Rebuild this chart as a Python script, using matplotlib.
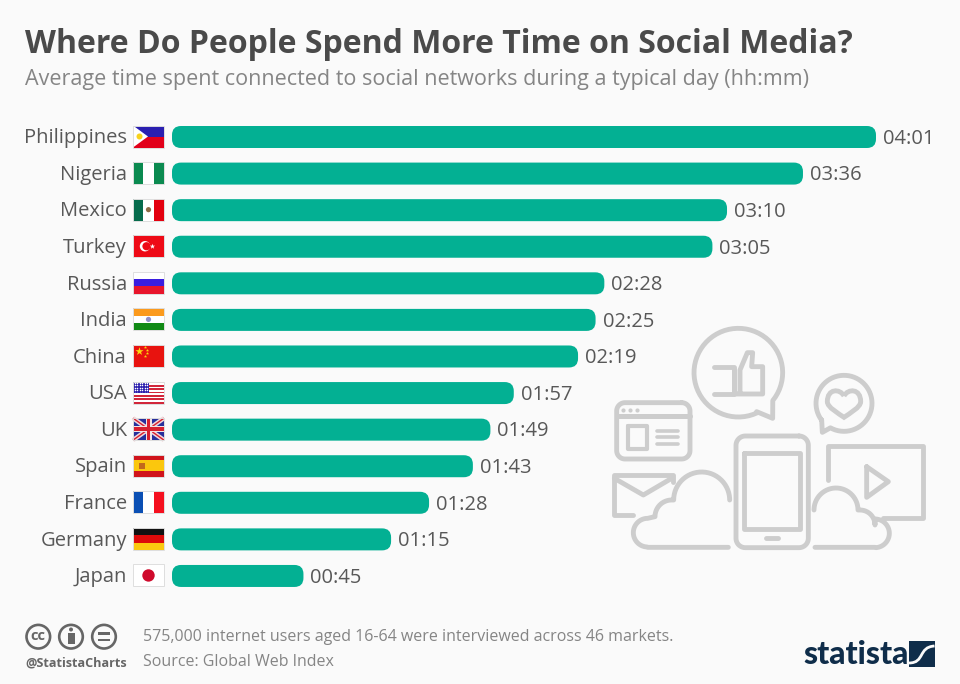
#!/usr/bin/env python3
"""Average daily social media time per country, Statista style."""

import matplotlib

matplotlib.use("Agg")
import matplotlib.pyplot as plt
import numpy as np
from matplotlib.patches import Circle, FancyBboxPatch, PathPatch, Polygon, Rectangle
from matplotlib.path import Path

countries = ["Philippines", "Nigeria", "Mexico", "Turkey", "Russia", "India", "China",
             "USA", "UK", "Spain", "France", "Germany", "Japan"]
time_labels = ["04:01", "03:36", "03:10", "03:05", "02:28", "02:25", "02:19",
               "01:57", "01:49", "01:43", "01:28", "01:15", "00:45"]
minutes = [241, 216, 190, 185, 148, 145, 139, 117, 109, 103, 88, 75, 45]

BG = "#fafafa"
BAR = "#03b093"
DARK = "#4a4a4a"
TEXT = "#585858"
MUTED = "#858585"
ICON = "#cdcdcd"
NAVY = "#0f2d4a"
FONT = "Open Sans"

W, H = 960, 684
PX_PER_MIN = 704 / 241
ROW_PX = 36.58
FIRST_ROW_PX = 137
BAR_LEFT = 172
BAR_PX = 22

plt.rcParams["font.family"] = [FONT, "DejaVu Sans"]

fig = plt.figure(figsize=(W / 100, H / 100), dpi=100, facecolor=BG)

# overlay in pixel coordinates for flags, icons and footer
pix = fig.add_axes([0, 0, 1, 1], zorder=1)
pix.set_xlim(0, W)
pix.set_ylim(H, 0)
pix.axis("off")

# bars: x is minutes, y is row number
n = len(countries)
top_px = FIRST_ROW_PX - ROW_PX / 2
bottom_px = FIRST_ROW_PX + ROW_PX * (n - 0.5)
ax = fig.add_axes([BAR_LEFT / W, 1 - bottom_px / H, (W - BAR_LEFT) / W, (bottom_px - top_px) / H],
                  zorder=2)
ax.patch.set_alpha(0)
ax.set_xlim(0, (W - BAR_LEFT) / PX_PER_MIN)
ax.set_ylim(n - 0.5, -0.5)
ax.axis("off")

bar_h = BAR_PX / ROW_PX
radius = 9 / PX_PER_MIN
for i, m in enumerate(minutes):
    ax.add_patch(FancyBboxPatch((0, i - bar_h / 2), m, bar_h,
                                boxstyle=f"round,pad=0,rounding_size={radius}",
                                mutation_aspect=PX_PER_MIN / ROW_PX,
                                fc=BAR, ec="none"))
    ax.annotate(time_labels[i], (m, i + 0.05), xytext=(5, 0), textcoords="offset points",
                va="center", ha="left", fontsize=14.5, color=TEXT)


def stripes_h(x, y, w, h, colors, weights=None):
    weights = weights or [1] * len(colors)
    total = sum(weights)
    cur = y
    for c, wt in zip(colors, weights):
        pix.add_patch(Rectangle((x, cur), w, h * wt / total, fc=c, ec="none", zorder=3))
        cur += h * wt / total


def stripes_v(x, y, w, h, colors):
    for j, c in enumerate(colors):
        pix.add_patch(Rectangle((x + j * w / len(colors), y), w / len(colors), h, fc=c, ec="none", zorder=3))


def draw_flag(name, cy):
    x, w, h = 133, 31, 22
    y = cy - h / 2
    if name == "Philippines":
        stripes_h(x, y, w, h, ["#2a1fb0", "#e2001a"])
        pix.add_patch(Polygon([(x, y), (x + 15, cy), (x, y + h)], fc="white", ec="none", zorder=4))
        pix.add_patch(Circle((x + 6.5, cy), 3, fc="#f8d21c", ec="none", zorder=5))
    elif name == "Nigeria":
        stripes_v(x, y, w, h, ["#0b8a50", "white", "#0b8a50"])
    elif name == "Mexico":
        stripes_v(x, y, w, h, ["#066b4c", "white", "#e3000f"])
        pix.add_patch(Circle((x + w / 2, cy), 2.6, fc="#8c6a45", ec="none", zorder=5))
    elif name == "Turkey":
        stripes_h(x, y, w, h, ["#ee0a16"])
        pix.add_patch(Circle((x + 12, cy), 5.2, fc="white", ec="none", zorder=4))
        pix.add_patch(Circle((x + 13.5, cy), 4.1, fc="#ee0a16", ec="none", zorder=5))
        pix.scatter([x + 19], [cy], marker="*", s=16, c="white", linewidths=0, zorder=5)
    elif name == "Russia":
        stripes_h(x, y, w, h, ["white", "#3a1ee0", "#e8152b"])
    elif name == "India":
        stripes_h(x, y, w, h, ["#fb9a1d", "white", "#118a16"])
        pix.add_patch(Circle((x + w / 2, cy), 2.6, fc="#8f8fc8", ec="none", zorder=5))
    elif name == "China":
        stripes_h(x, y, w, h, ["#e8130f"])
        pix.scatter([x + 6], [y + 6], marker="*", s=38, c="#fbd80f", linewidths=0, zorder=5)
        pix.scatter([x + 11.5, x + 14, x + 14, x + 11.5], [y + 2.5, y + 5, y + 8.5, y + 11],
                    marker="*", s=6, c="#fbd80f", linewidths=0, zorder=5)
    elif name == "USA":
        stripes_h(x, y, w, h, ["#d2263a", "white"] * 6 + ["#d2263a"])
        pix.add_patch(Rectangle((x, y), 16, 11.8, fc="#2c20ad", ec="none", zorder=4))
        xs, ys = np.meshgrid(np.arange(x + 1.5, x + 16, 2.6), np.arange(y + 1.5, y + 11.5, 2.4))
        pix.scatter(xs.ravel(), ys.ravel(), s=1.2, c="white", linewidths=0, zorder=5)
    elif name == "UK":
        stripes_h(x, y, w, h, ["#26309c"])
        for a, b in [((x, y), (x + w, y + h)), ((x, y + h), (x + w, y))]:
            pix.plot(*zip(a, b), color="#f0d8dc", lw=3.2, solid_capstyle="butt", zorder=4)
            pix.plot(*zip(a, b), color="#d8202f", lw=1, solid_capstyle="butt", zorder=5)
        pix.add_patch(Rectangle((x + w / 2 - 3, y), 6, h, fc="#f0e4e6", ec="none", zorder=5))
        pix.add_patch(Rectangle((x, cy - 3), w, 6, fc="#f0e4e6", ec="none", zorder=5))
        pix.add_patch(Rectangle((x + w / 2 - 1.7, y), 3.4, h, fc="#d8202f", ec="none", zorder=6))
        pix.add_patch(Rectangle((x, cy - 1.7), w, 3.4, fc="#d8202f", ec="none", zorder=6))
    elif name == "Spain":
        stripes_h(x, y, w, h, ["#d0141b", "#fbc70d", "#d0141b"], [1, 2, 1])
        pix.add_patch(Rectangle((x + 6, cy - 3), 6, 6, fc="#c2691c", ec="none", zorder=5))
    elif name == "France":
        stripes_v(x, y, w, h, ["#0a4fb4", "white", "#f5101f"])
    elif name == "Germany":
        stripes_h(x, y, w, h, ["#111111", "#dd0a0a", "#fbc90f"])
    elif name == "Japan":
        stripes_h(x, y, w, h, ["white"])
        pix.add_patch(Circle((x + w / 2, cy), 6.2, fc="#cf0a2c", ec="none", zorder=5))
    pix.add_patch(Rectangle((x, y), w, h, fc="none", ec="#dedede", lw=0.7, zorder=7))


for i, name in enumerate(countries):
    cy = FIRST_ROW_PX + i * ROW_PX
    pix.text(127, cy + 1.2, name, ha="right", va="center", fontsize=14.5, color=TEXT)
    draw_flag(name, cy - 0.5)

# header
pix.text(25, 44.5, "Where Do People Spend More Time on Social Media?", fontsize=23,
         fontweight="bold", color=DARK, va="center", ha="left")
pix.text(25, 79, "Average time spent connected to social networks during a typical day (hh:mm)",
         fontsize=15.5, color=MUTED, va="center", ha="left")


# icon helpers: coordinates below come from a 3x crop starting at (600, 320)
def zx(v):
    return 600 + np.asarray(v, dtype=float) / 3


def zy(v):
    return 320 + np.asarray(v, dtype=float) / 3


def stroke(pts, lw=3.5, closed=False):
    pts = list(pts)
    if closed:
        pts.append(pts[0])
    xs, ys = zip(*pts)
    pix.plot(zx(xs), zy(ys), color=ICON, lw=lw, solid_capstyle="round", solid_joinstyle="round", zorder=1.5)


def arc(cx, cy, r, a0, a1, steps=60):
    t = np.radians(np.linspace(a0, a1, steps))
    return list(zip(cx + r * np.cos(t), cy + r * np.sin(t)))


def round_rect(x0, y0, x1, y1, r, lw=3.5):
    pts = arc(x1 - r, y0 + r, r, -90, 0, 12) + arc(x1 - r, y1 - r, r, 0, 90, 12)
    pts += arc(x0 + r, y1 - r, r, 90, 180, 12) + arc(x0 + r, y0 + r, r, 180, 270, 12)
    stroke(pts, lw=lw, closed=True)


# speech bubble with thumb
stroke(arc(415, 158, 133, 65, 399) + [(518, 295), (470, 275)])
stroke([(342, 142), (402, 142), (402, 222), (342, 222)])
stroke([(420, 215), (420, 150), (442, 98), (458, 98), (455, 140), (488, 140), (488, 222), (402, 222)])
stroke([(402, 150), (402, 215)])

# small bubble with heart
stroke(arc(732, 250, 84, 143, 479) + [(667, 337), (665, 300)])
hx = np.array([732, 720, 682, 682, 682, 715, 732, 749, 782, 782, 782, 744, 732])
hy = np.array([228, 205, 205, 245, 262, 280, 292, 280, 262, 245, 205, 205, 228])
heart = Path(np.column_stack([zx(hx), zy(hy)]), [Path.MOVETO] + [Path.CURVE4] * 12)
pix.add_patch(PathPatch(heart, fc="none", ec=ICON, lw=3.5, zorder=1.5))

# browser window
round_rect(50, 248, 270, 417, 25)
stroke([(50, 288), (270, 288)], lw=3.6)
pix.scatter(zx([70, 90, 110]), zy([270, 270, 270]), s=9, c=ICON, linewidths=0, zorder=1.5)
stroke([(84, 317), (142, 317), (142, 388), (84, 388)], closed=True, lw=3)
for ly in (333, 352, 372):
    stroke([(170, ly), (235, ly)], lw=2.6)

# phone
round_rect(408, 348, 625, 683, 28)
stroke([(432, 400), (600, 400), (600, 628), (432, 628)], closed=True)
stroke([(497, 655), (533, 655)])

# video frame
stroke([(683, 480), (683, 377), (968, 377), (968, 595), (850, 595)])
stroke([(800, 440), (865, 485), (800, 532)], closed=True)

# envelope
stroke([(100, 585), (43, 585), (43, 465), (220, 465), (220, 485)])
stroke([(43, 475), (130, 525), (215, 475)])

# clouds
stroke([(385, 682), (143, 682)] + arc(143, 638, 43, 90, 270)[1:] + arc(215, 590, 50, 180, 270) + arc(305, 540, 84, 180, 360))
stroke([(645, 682), (825, 682)] + arc(825, 640, 43, 90, -90)[1:] + arc(780, 615, 45, 0, -90) + arc(708, 570, 66, 0, -180))

# footer
for cx in (38.3, 71, 104):
    pix.add_patch(Circle((cx, 636.7), 11.8, fc="none", ec="#666666", lw=1.9, zorder=3))
pix.text(38.3, 636, "cc", fontsize=10.5, fontweight="bold", color="#666666", ha="center", va="center")
pix.add_patch(Circle((71, 629.5), 2, fc="#666666", ec="none", zorder=3))
pix.add_patch(Rectangle((67.5, 632.5), 7, 11, fc="#666666", ec="none", zorder=3))
pix.add_patch(Rectangle((98, 632), 12, 2.6, fc="#666666", ec="none", zorder=3))
pix.add_patch(Rectangle((98, 638.5), 12, 2.6, fc="#666666", ec="none", zorder=3))
pix.text(25, 662.5, "@StatistaCharts", fontsize=9.05, fontweight="bold", color="#666666", ha="left", va="center")
pix.text(143, 637, "575,000 internet users aged 16-64 were interviewed across 46 markets.",
         fontsize=11.5, color=MUTED, ha="left", va="center")
pix.text(143, 662.5, "Source: Global Web Index", fontsize=11.5, color=MUTED, ha="left", va="center")

# logo
pix.text(803, 655, "statista", fontsize=23, fontweight="black", family="Lato",
         color=NAVY, ha="left", va="center")
pix.add_patch(Rectangle((909, 641), 25.5, 25.5, fc=NAVY, ec="none", zorder=3))
band = Path([(909, 663), (925, 663), (918, 647), (934.5, 646)], [Path.MOVETO, Path.CURVE4, Path.CURVE4, Path.CURVE4])
pix.add_patch(PathPatch(band, fc="none", ec=BG, lw=2, zorder=4))

fig.savefig("out.png", dpi=100, facecolor=BG)
